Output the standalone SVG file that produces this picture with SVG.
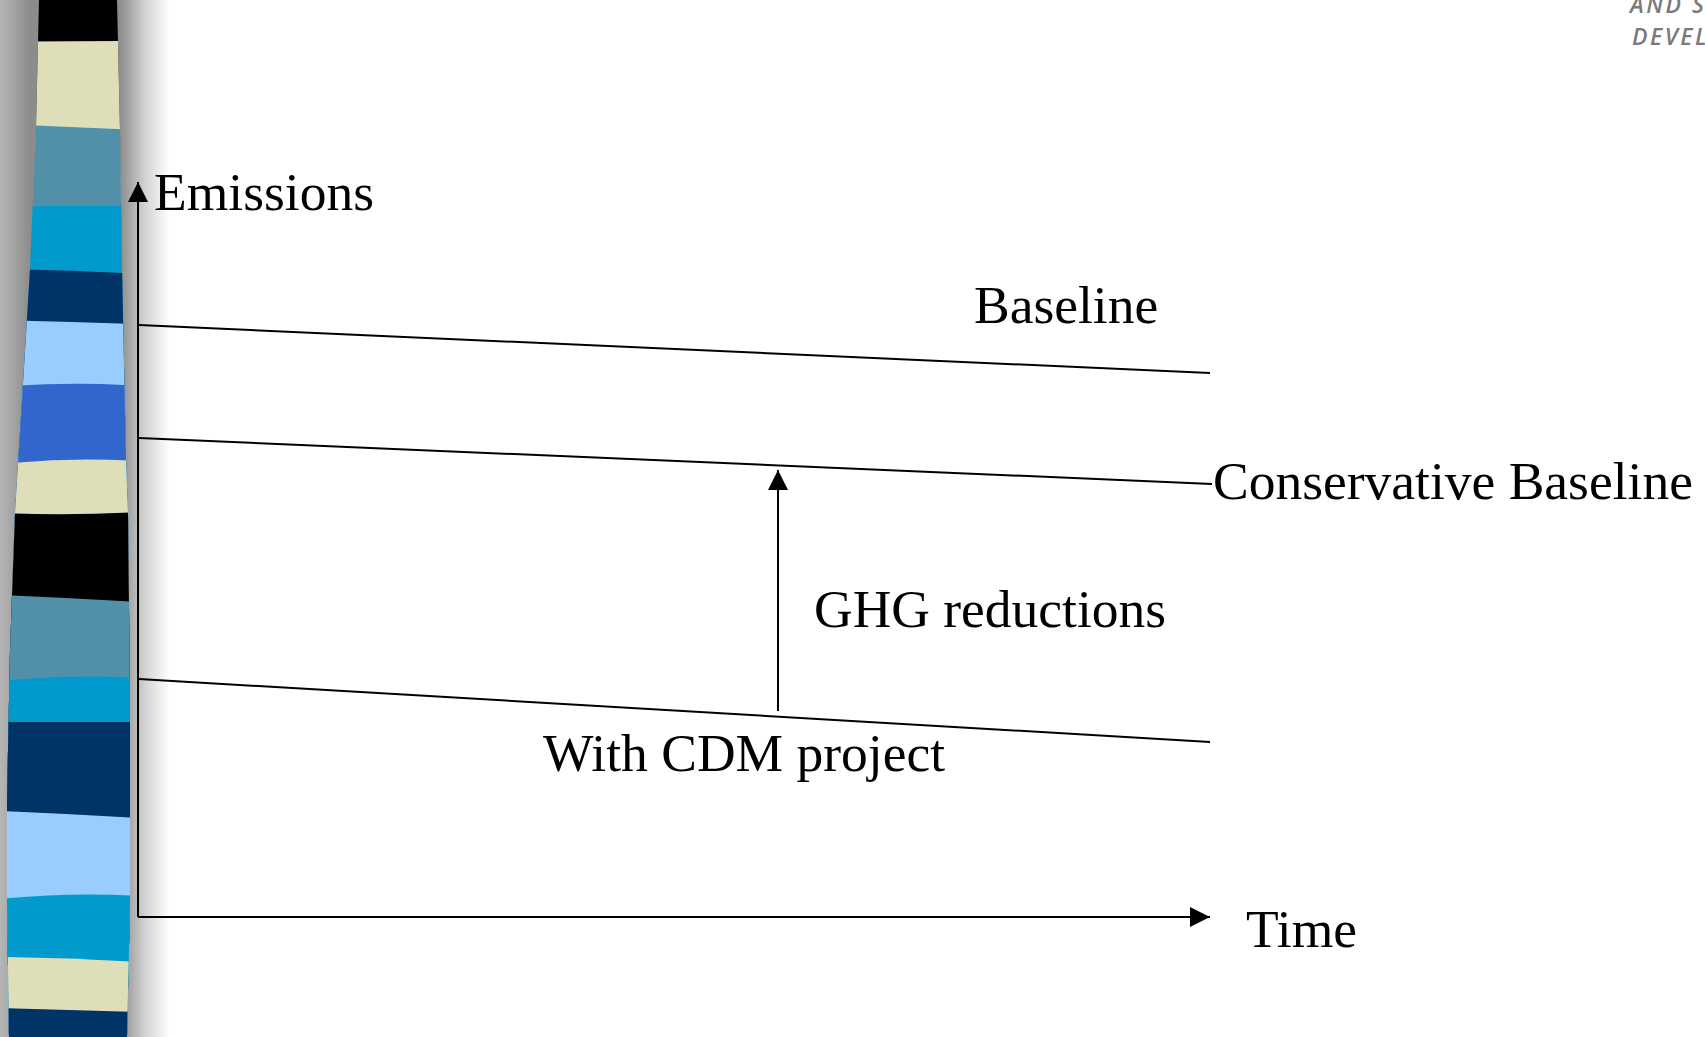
<svg xmlns="http://www.w3.org/2000/svg" width="1705" height="1037" viewBox="0 0 1705 1037">
<style>
.lbl{font-family:"Liberation Serif","Times New Roman",serif;font-size:53.5px;fill:#000}
.ln{stroke:#000;stroke-width:2;fill:none}
.logo{font-family:"Open Sans","DejaVu Sans",sans-serif;font-size:23px;font-weight:600;font-style:italic;fill:#7a7a7a;letter-spacing:2.5px}
</style>
<defs>
<linearGradient id="shade" x1="0" y1="0" x2="175" y2="0" gradientUnits="userSpaceOnUse">
<stop offset="0" stop-color="#b6b6b6"/>
<stop offset="0.17" stop-color="#8c8c8c"/>
<stop offset="0.68" stop-color="#8c8c8c"/>
<stop offset="0.72" stop-color="#9c9c9c"/>
<stop offset="0.83" stop-color="#d4d4d4"/>
<stop offset="0.97" stop-color="#ffffff"/>
</linearGradient>
<clipPath id="barclip">
<polygon points="39,0 117,0 120,130 122,270 126,460 128,513 130,700 130,900 127,1037 9,1037 7,900 7,800 10,650 15,513 22,400 30,270 36,127"/>
</clipPath>
<marker id="ah" viewBox="0 0 20 20" refX="20" refY="10" markerWidth="20" markerHeight="20" markerUnits="userSpaceOnUse" orient="auto">
<path d="M0,0 L20,10 L0,20 Z" fill="#000"/>
</marker>
</defs>
<rect width="1705" height="1037" fill="#fff"/>
<rect id="shadow" x="0" y="0" width="175" height="1037" fill="url(#shade)"/>
<g id="bar" clip-path="url(#barclip)">
<rect x="0" y="0" width="140" height="1037" fill="#000"/>
<path d="M0,42 Q70,41 140,41 L140,1037 L0,1037 Z" fill="#DEDFB8"/>
<path d="M0,124 Q70,127 140,130 L140,1037 L0,1037 Z" fill="#5290AA"/>
<path d="M0,208 Q70,204 140,207 L140,1037 L0,1037 Z" fill="#009ACC"/>
<path d="M0,269 Q70,270 140,274 L140,1037 L0,1037 Z" fill="#003366"/>
<path d="M0,320 Q70,322 140,324 L140,1037 L0,1037 Z" fill="#99CCFF"/>
<path d="M0,387 Q70,381 140,386 L140,1037 L0,1037 Z" fill="#3366CC"/>
<path d="M0,464 Q70,457 140,461 L140,1037 L0,1037 Z" fill="#DEDFB8"/>
<path d="M0,513 Q70,516 140,512 L140,1037 L0,1037 Z" fill="#000"/>
<path d="M0,595 Q70,598 140,602 L140,1037 L0,1037 Z" fill="#5290AA"/>
<path d="M0,681 Q70,674 140,678 L140,1037 L0,1037 Z" fill="#009ACC"/>
<path d="M0,722 L140,722 L140,1037 L0,1037 Z" fill="#003366"/>
<path d="M0,811 Q70,814 140,818 L140,1037 L0,1037 Z" fill="#99CCFF"/>
<path d="M0,899 Q70,892 140,896 L140,1037 L0,1037 Z" fill="#009ACC"/>
<path d="M0,957 Q70,958 140,962 L140,1037 L0,1037 Z" fill="#DEDFB8"/>
<path d="M0,1008 Q70,1010 140,1012 L140,1037 L0,1037 Z" fill="#003366"/>
</g>
<g id="logo">
<text class="logo" x="1630" y="13">AND S</text>
<text class="logo" x="1632" y="45">DEVEL</text>
</g>
<g id="connectors">
<path id="y-axis" class="ln" d="M138,917 L138,182" marker-end="url(#ah)"/>
<path id="x-axis" class="ln" d="M138,917 L1210,917" marker-end="url(#ah)"/>
<path id="baseline" class="ln" stroke-width="1.8" d="M139,325 L1210,373"/>
<path id="conservative" class="ln" stroke-width="1.8" d="M139,438 L1212,484"/>
<path id="cdm" class="ln" stroke-width="1.8" d="M139,679 L1210,742"/>
<path id="ghg-arrow" class="ln" d="M778,711 L778,470" marker-end="url(#ah)"/>
</g>
<g id="labels">
<text id="t-emissions" class="lbl" x="154" y="210">Emissions</text>
<text id="t-baseline" class="lbl" x="974" y="323">Baseline</text>
<text id="t-conservative" class="lbl" x="1213" y="499">Conservative Baseline</text>
<text id="t-ghg" class="lbl" x="814" y="627">GHG reductions</text>
<text id="t-cdm" class="lbl" x="543" y="771">With CDM project</text>
<text id="t-time" class="lbl" x="1246" y="947">Time</text>
</g>
</svg>
